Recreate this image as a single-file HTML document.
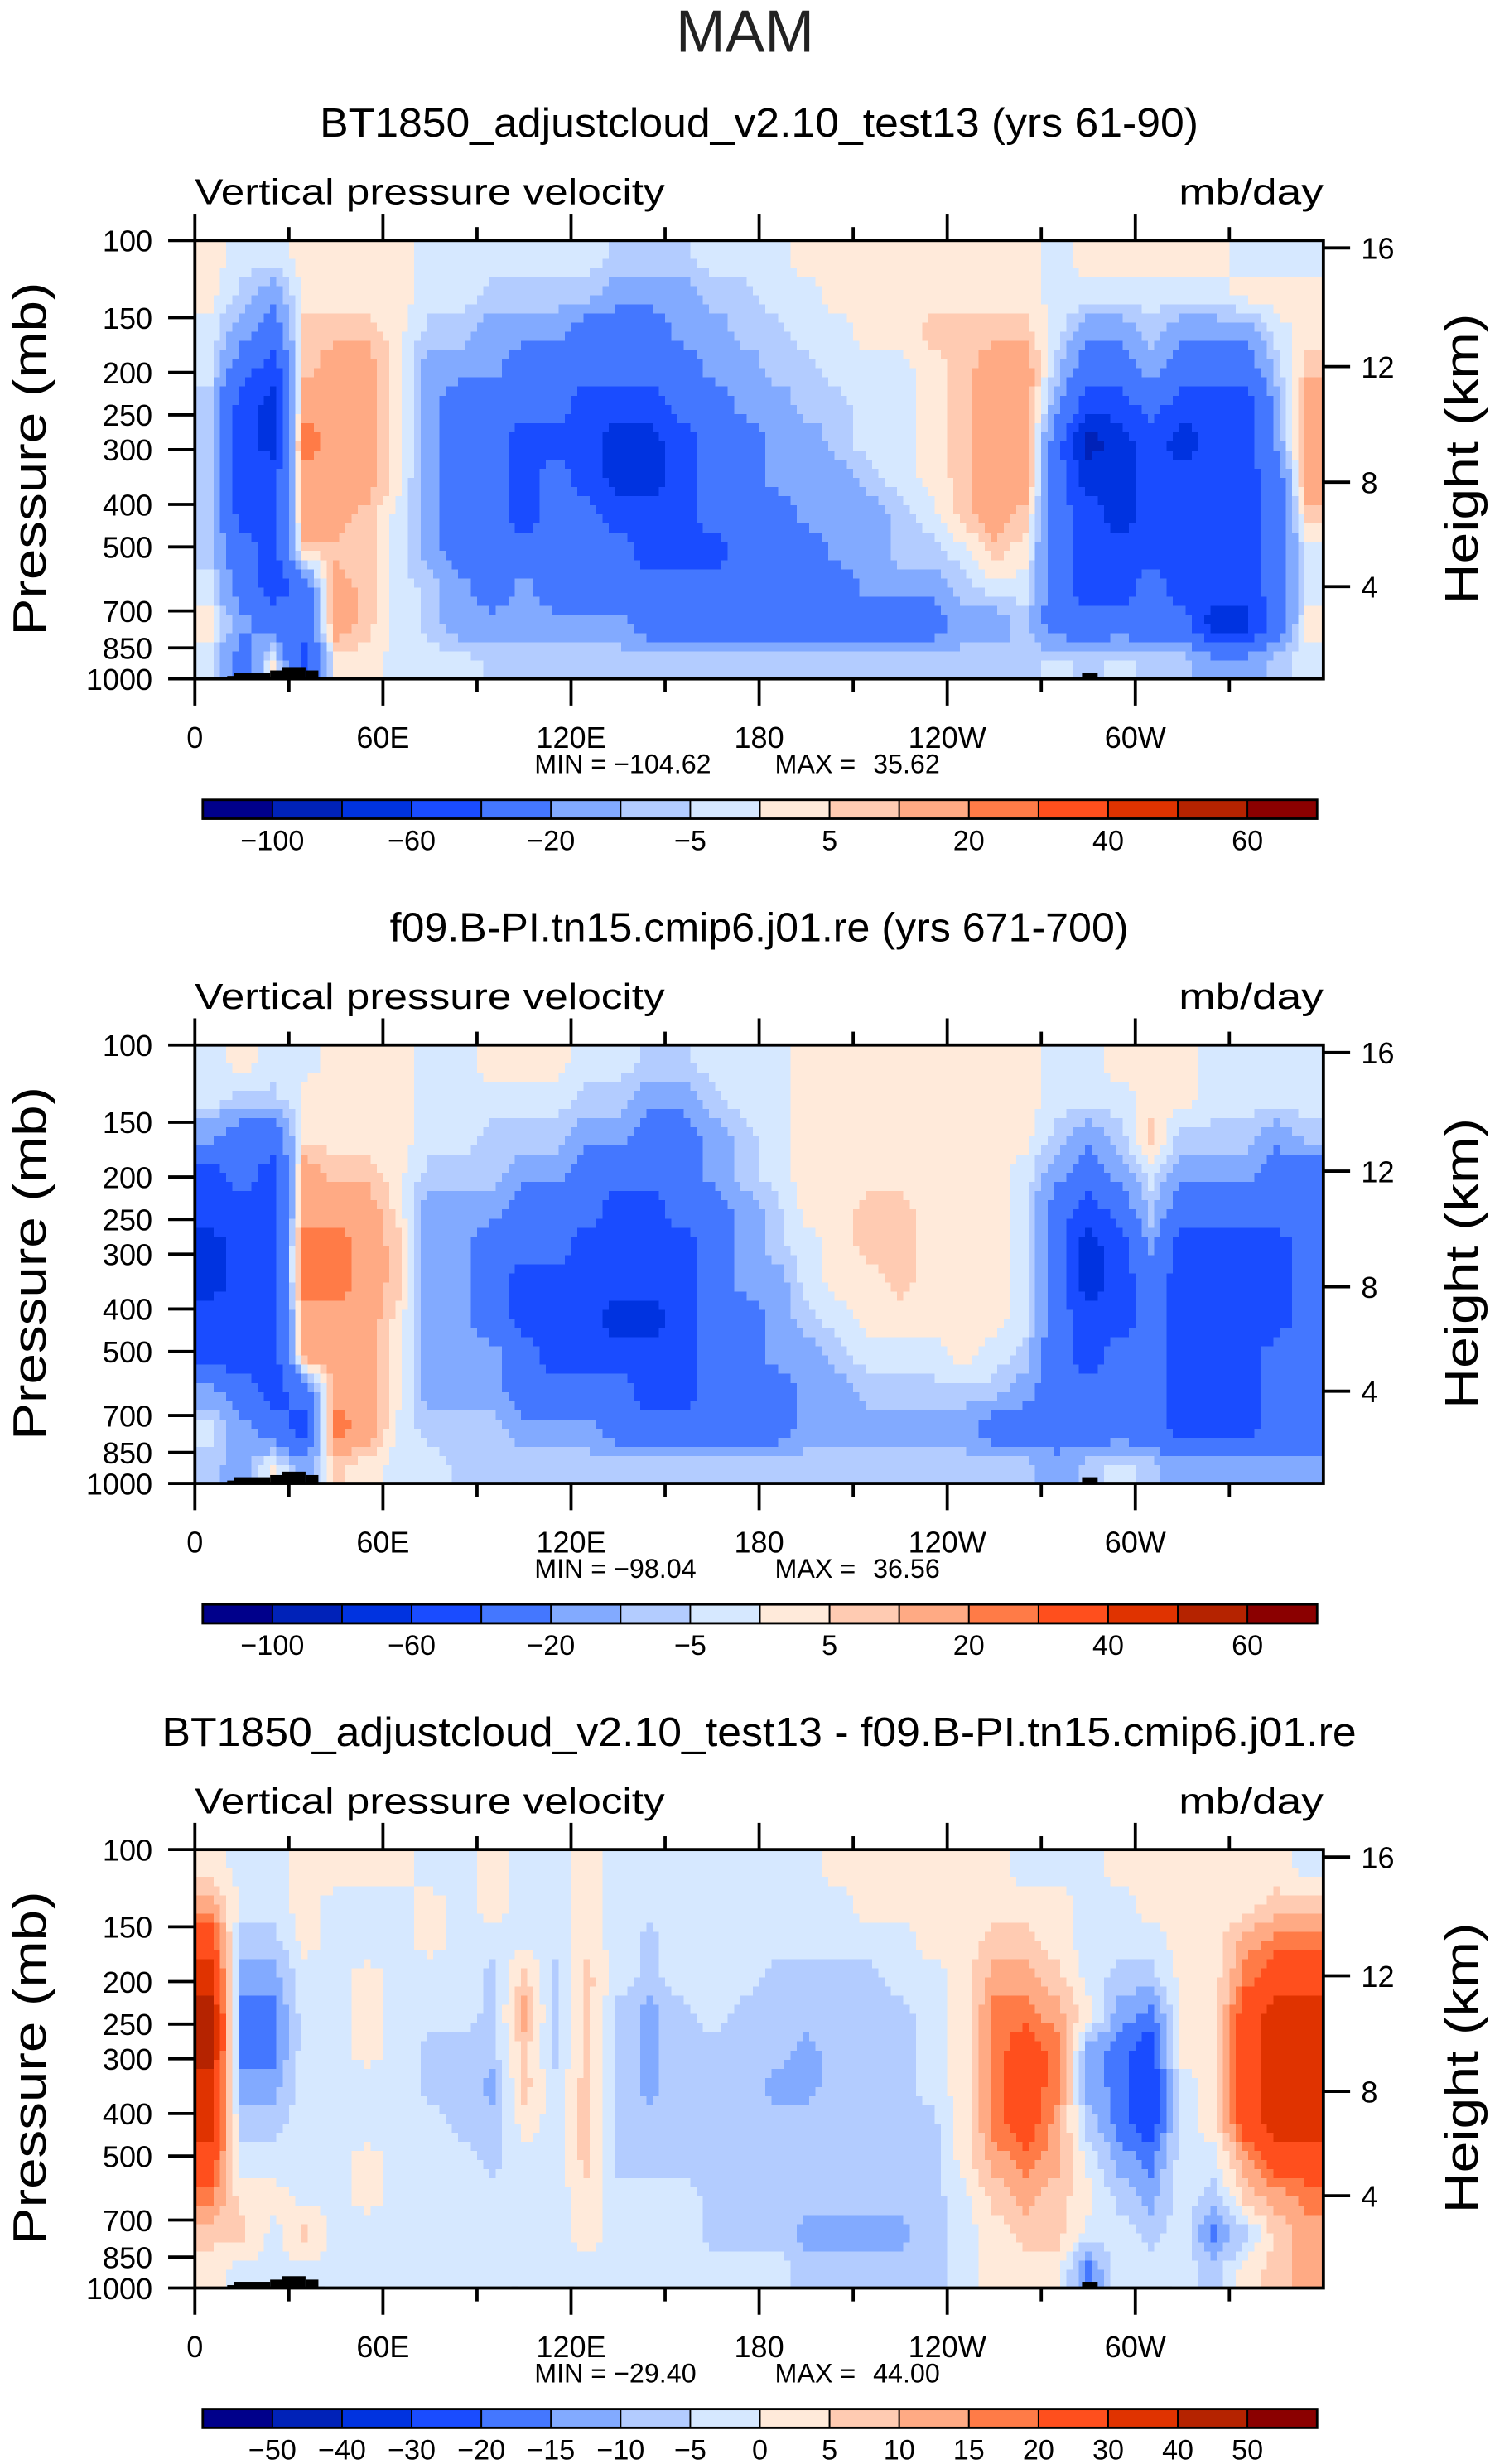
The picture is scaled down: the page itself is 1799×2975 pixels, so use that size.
<!DOCTYPE html>
<html><head><meta charset="utf-8"><style>
html,body{margin:0;padding:0;background:#fff;}
svg{display:block;font-family:"Liberation Sans",sans-serif;}
</style></head><body>
<svg id="fig" width="1799" height="2975" viewBox="0 0 948 1568" preserveAspectRatio="none" xmlns="http://www.w3.org/2000/svg">
<text x="474" y="33" font-size="38" text-anchor="middle" fill="#222" textLength="88" lengthAdjust="spacingAndGlyphs">MAM</text>
</svg>
<script>
// ===== data =====
const lonCenters = [5,15,25,35,45,55,65,75,85,95,105,115,125,135,145,155,165,175,185,195,205,215,225,235,245,255,265,275,285,295,305,315,325,335,345,355];
const pressureTicks = [100,150,200,250,300,400,500,700,850,1000];
const heightTicks = [16,12,8,4];
const heightTickPressure = [104,194,356,616];
const lonTickValues = [0,60,120,180,240,300];
const lonTickLabels = ["0","60E","120E","180","120W","60W"];
const levelsAbs = [-100,-80,-60,-40,-20,-10,-5,0,5,10,20,30,40,50,60];
const levelsDiff = [-50,-40,-30,-20,-15,-10,-5,0,5,10,15,20,30,40,50];
const levelColors = ['#00008b','#0022b8','#0033e0','#1a4cff','#4477ff','#82aaff','#b3ccff','#d6e8ff','#ffeada','#ffcbb2','#ffaa84','#ff7b47','#ff4f1d','#e03300','#b52300','#8b0000'];
const titles = ["BT1850_adjustcloud_v2.10_test13 (yrs 61-90)","f09.B-PI.tn15.cmip6.j01.re (yrs 671-700)","BT1850_adjustcloud_v2.10_test13 - f09.B-PI.tn15.cmip6.j01.re"];
const minVals = ["\u2212104.62","\u221298.04","\u221229.40"];
const maxVals = ["35.62","36.56","44.00"];
// columns: 36 longitude bins, each 12 rows from 100mb (top) to 1000mb (bottom)
const field1 = [
[2,2,-2,-2,-7,-7,-7,-7,-7,-2,2,-2],[-2,-7,-15,-30,-50,-50,-50,-50,-30,-30,-15,-30],[-2,-15,-30,-50,-70,-70,-50,-50,-50,-50,-30,2],
[2,2,7,7,15,25,15,15,7,-30,-30,-50],[2,2,7,15,15,15,15,15,7,15,15,2],[2,2,7,15,15,15,15,7,7,7,7,2],
[2,2,2,2,2,2,2,-2,-2,-2,-2,-2],[-2,-2,-7,-15,-15,-15,-15,-15,-15,-7,-7,-2],[-2,-2,-7,-15,-30,-30,-30,-30,-30,-15,-15,-2],
[-2,-7,-15,-15,-30,-30,-30,-30,-30,-30,-15,-7],[-2,-7,-15,-30,-30,-50,-50,-50,-30,-15,-15,-7],[-2,-7,-15,-30,-30,-50,-30,-30,-30,-30,-15,-7],
[-2,-7,-30,-30,-50,-50,-50,-30,-30,-30,-15,-7],[-7,-15,-30,-30,-50,-70,-70,-50,-30,-30,-15,-7],[-7,-15,-30,-30,-50,-70,-70,-50,-50,-30,-30,-7],
[-7,-15,-15,-30,-30,-50,-50,-50,-50,-30,-30,-7],[-2,-7,-15,-15,-30,-30,-30,-30,-50,-30,-30,-7],[-2,-7,-7,-15,-15,-30,-30,-30,-30,-30,-30,-7],
[-2,-2,-7,-7,-15,-15,-15,-30,-30,-30,-30,-7],[2,-2,-2,-7,-7,-15,-15,-15,-30,-30,-30,-7],[2,2,-2,-2,-7,-7,-15,-15,-15,-30,-30,-7],
[2,2,2,-2,-2,-2,-7,-15,-15,-15,-30,-7],[2,2,2,-2,-2,-2,-2,-7,-7,-15,-30,-7],[2,2,7,2,2,2,2,-2,-7,-15,-30,-7],
[2,2,7,7,7,7,7,7,-2,-7,-15,-7],[2,2,7,15,15,15,15,15,7,-2,-15,-7],[2,2,7,15,15,15,15,7,2,-2,-7,-7],
[-2,-2,-2,-7,-15,-30,-30,-30,-30,-30,-30,-2],[2,-2,-15,-30,-50,-90,-70,-50,-50,-50,-30,-7],[2,-2,-15,-30,-50,-70,-70,-70,-50,-50,-30,-2],
[2,-2,-7,-15,-30,-50,-50,-50,-50,-30,-30,-7],[2,-2,-15,-30,-50,-70,-50,-50,-50,-50,-30,-7],[2,-2,-15,-30,-50,-50,-50,-50,-50,-50,-70,-15],
[-2,2,-15,-30,-50,-50,-50,-50,-50,-50,-70,-15],[-2,2,-2,-7,-15,-15,-30,-30,-30,-30,-30,-7],[-2,2,2,7,15,15,15,7,-2,-2,2,-2]];
const field2 = [
[-2,-2,-15,-50,-50,-70,-70,-50,-50,-15,-2,-7],[2,-7,-30,-30,-50,-50,-50,-50,-50,-30,-15,-15],[-2,-7,-30,-50,-50,-50,-50,-50,-50,-50,-30,2],
[-2,2,2,15,15,25,25,15,15,-30,-50,-15],[2,2,2,7,15,25,25,15,15,15,25,7],[2,2,2,7,15,15,15,15,15,15,15,2],
[2,2,2,2,2,7,7,2,2,2,-2,-2],[-2,-2,-2,-7,-15,-15,-15,-15,-15,-15,-7,-2],[-2,-2,-2,-7,-15,-15,-15,-15,-15,-15,-7,-7],
[2,-2,-7,-7,-15,-30,-30,-30,-15,-15,-7,-7],[2,-2,-7,-15,-30,-30,-50,-50,-30,-30,-15,-7],[2,-2,-7,-15,-30,-30,-50,-50,-50,-30,-15,-7],
[-2,-7,-15,-30,-30,-50,-50,-50,-50,-30,-15,-7],[-2,-7,-15,-30,-50,-50,-50,-70,-50,-30,-30,-7],[-7,-15,-30,-30,-50,-50,-50,-70,-50,-50,-30,-7],
[-7,-15,-30,-30,-30,-50,-50,-50,-50,-50,-30,-7],[-2,-7,-15,-15,-30,-30,-30,-30,-30,-30,-30,-7],[-2,-2,-7,-7,-15,-15,-15,-30,-30,-30,-30,-7],
[-2,-2,-2,-2,-7,-7,-15,-15,-15,-30,-30,-7],[2,2,2,2,2,-2,-2,-7,-15,-15,-15,-7],[2,2,2,2,2,2,2,-2,-7,-15,-15,-7],
[2,2,2,2,7,7,2,2,-2,-7,-15,-7],[2,2,2,2,7,7,7,2,-2,-7,-15,-7],[2,2,2,2,2,2,2,2,-2,-7,-15,-7],
[2,2,2,2,2,2,2,2,2,-7,-15,-7],[2,2,2,2,2,2,2,2,-2,-7,-30,-7],[2,2,2,-2,-2,-2,-2,-2,-7,-15,-30,-7],
[-2,-2,-7,-15,-30,-30,-30,-30,-30,-30,-30,-15],[-2,-2,-15,-30,-50,-70,-70,-50,-50,-30,-30,-7],[2,-2,-7,-15,-30,-50,-50,-50,-30,-30,-30,-2],
[2,2,7,-2,-7,-15,-30,-30,-30,-30,-30,-7],[2,2,-7,-15,-30,-50,-50,-50,-50,-50,-50,-15],[-2,-2,-7,-15,-30,-50,-50,-50,-50,-50,-50,-15],
[-2,-2,-7,-15,-30,-50,-50,-50,-50,-50,-50,-15],[-2,-2,-15,-30,-30,-50,-50,-50,-30,-30,-30,-15],[-2,-2,-7,-30,-30,-30,-30,-30,-30,-30,-30,-15]];
const field3 = [
[2,12,25,35,45,45,35,35,25,17,7,2],[-2,-2,-7,-12,-17,-17,-12,-7,-2,2,7,-2],[-2,-2,-7,-12,-17,-17,-12,-7,-2,2,-2,-2],
[2,2,2,-2,-2,-2,-2,-2,-2,-2,7,-2],[2,-2,-2,-2,-2,-2,-2,-2,-2,-2,-2,-2],[2,-2,-2,2,2,2,-2,-2,2,2,-2,-2],
[2,-2,-2,-2,-2,-2,-2,-2,-2,-2,-2,-2],[-2,2,2,-2,-2,-7,-7,-2,-2,-2,-2,-2],[-2,-2,-2,-2,-2,-7,-7,-7,-2,-2,-2,-2],
[2,2,-2,-7,-7,-7,-12,-7,-7,-2,-2,-2],[-2,-2,-2,7,12,7,7,2,-2,-2,-2,-2],[-2,-2,-2,-7,-7,-7,-2,-2,-2,-2,-2,-2],
[2,2,2,7,7,7,7,7,7,2,2,-2],[-2,-2,-2,-2,-7,-7,-7,-7,-7,-2,-2,-2],[-2,-2,-7,-7,-12,-12,-12,-7,-7,-2,-2,-2],
[-2,-2,-2,-2,-7,-7,-7,-7,-7,-2,-2,-2],[-2,-2,-2,-2,-2,-7,-7,-7,-7,-7,-7,-2],[-2,-2,-2,-2,-7,-7,-7,-7,-7,-7,-7,-2],
[-2,-2,-2,-7,-7,-7,-12,-7,-7,-7,-7,-2],[-2,-2,-2,-7,-7,-12,-12,-7,-7,-7,-12,-7],[2,-2,-2,-7,-7,-7,-7,-7,-7,-7,-12,-7],
[2,2,-2,-7,-7,-7,-7,-7,-7,-7,-12,-7],[2,2,-2,-2,-7,-7,-7,-7,-7,-7,-12,-7],[2,2,2,-2,-2,-2,-2,-7,-7,-7,-7,-7],
[2,2,2,2,2,2,2,2,2,-2,-2,-2],[2,2,7,12,17,17,17,17,12,7,2,2],[-2,2,7,12,17,25,25,25,17,12,7,2],
[-2,2,2,7,12,17,17,12,12,7,7,2],[-2,-2,-2,-2,2,-12,-12,-7,-2,2,-2,-17],[2,-2,-2,-7,-12,-17,-17,-17,-12,-7,-2,-2],
[2,2,-2,-7,-17,-25,-25,-25,-17,-12,-7,-2],[2,2,2,2,2,2,-2,-2,-2,-2,-2,-2],[2,2,2,2,2,2,2,2,-2,-7,-17,-7],
[2,2,12,17,25,25,25,25,12,7,-7,2],[2,7,17,25,35,35,35,35,25,12,7,7],[-2,7,17,25,35,35,40,35,25,17,12,12]];
const topoLonStart = [10.3,12.6,24,27.7,35.3,39.4,101,119,283,288];
const topoLonEnd   = [12.6,24,27.7,35.3,39.4,41.4,103,121,288,311.7];
const topoTopP     = [985,968,957,940,957,993,993,993,968,993];

// ===== layout / axes =====
const NS='http://www.w3.org/2000/svg';
const svg=document.getElementById('fig');
const X0=124,X1=842,PT=153,PB=432;
const SUBX=5, SUBY=4;
function xLon(l){return X0+(X1-X0)*l/360;}
function yP(p,off){return off+PT+(PB-PT)*Math.log(p/100)/Math.log(10);}
function yRow(r,off){return off+PT+(PB-PT)*r/12;}
function el(tag,attrs,parent){const e=document.createElementNS(NS,tag);for(const k in attrs)e.setAttribute(k,attrs[k]);(parent||svg).appendChild(e);return e;}
function binIndex(v,levels){let i=0;while(i<levels.length&&v>=levels[i])i++;return i;}
// render-time bilinear sampling between cell centres (display smoothing only)
function sample(F,cf,rf){
  const nc=F.length,nr=F[0].length;
  cf=Math.max(0,Math.min(nc-1,cf)); rf=Math.max(0,Math.min(nr-1,rf));
  const c0=Math.floor(cf),r0=Math.floor(rf),c1=Math.min(nc-1,c0+1),r1=Math.min(nr-1,r0+1);
  const tx=cf-c0,ty=rf-r0;
  return (F[c0][r0]*(1-tx)+F[c1][r0]*tx)*(1-ty)+(F[c0][r1]*(1-tx)+F[c1][r1]*tx)*ty;
}

const fields=[field1,field2,field3];
const levelSets=[levelsAbs,levelsAbs,levelsDiff];
const titleLen=[559,470,760];
for(let k=0;k<3;k++){
  const off=512*k;
  const g=el('g',{});
  
  
  const t=el('text',{x:483,y:off+87,'font-size':26,'text-anchor':'middle',fill:'#000',textLength:titleLen[k],lengthAdjust:'spacingAndGlyphs'},g);
  t.textContent=titles[k];
  
  
  const v=el('text',{x:124,y:off+130,'font-size':23,fill:'#000',textLength:299,lengthAdjust:'spacingAndGlyphs'},g);
  v.textContent='Vertical pressure velocity';
  
  
  const u=el('text',{x:750,y:off+130,'font-size':23,fill:'#000',textLength:92,lengthAdjust:'spacingAndGlyphs'},g);
  u.textContent='mb/day';
  
  
  // cells (each data cell subdivided for smoother display)
  const cg=el('g',{'shape-rendering':'crispEdges'},g);
  
  
  const F=fields[k];
  for(let c=0;c<F.length;c++){
    for(let r=0;r<F[c].length;r++){
      const xa=xLon(lonCenters[c]-5),xb=xLon(lonCenters[c]+5);
      const ya=yRow(r,off),yb=yRow(r+1,off);
      const dw=(xb-xa)/SUBX,dh=(yb-ya)/SUBY;
      for(let i=0;i<SUBX;i++){
        for(let j=0;j<SUBY;j++){
          const cf=c-0.5+(i+0.5)/SUBX, rf=r-0.5+(j+0.5)/SUBY;
          const val=sample(F,cf,rf);
          const rc=el('rect',{x:xa+i*dw,y:ya+j*dh,width:dw+0.3,height:dh+0.3,fill:levelColors[binIndex(val,levelSets[k])]},cg);
          
          
        }
      }
    }
  }
  // topography
  for(let i=0;i<topoLonStart.length;i++){
    const tr=el('rect',{x:xLon(topoLonStart[i]),y:yP(topoTopP[i],off),width:xLon(topoLonEnd[i])-xLon(topoLonStart[i]),height:yP(1000,off)-yP(topoTopP[i],off),fill:'#000'},g);
    
    
  }
  // frame
  const fr=el('rect',{x:X0,y:off+PT,width:X1-X0,height:PB-PT,fill:'none',stroke:'#000','stroke-width':2},g);
  
  
  // x ticks
  for(let l=0;l<=330;l+=30){
    const major=(l%60===0), x=xLon(l);
    const len=major?17:8.5;
    el('line',{x1:x,x2:x,y1:off+PT,y2:off+PT-len,stroke:'#000','stroke-width':2},g);
    el('line',{x1:x,x2:x,y1:off+PB,y2:off+PB+len,stroke:'#000','stroke-width':2},g);
  }
  for(let i=0;i<lonTickValues.length;i++){
    const xl=el('text',{x:xLon(lonTickValues[i]),y:off+476,'font-size':19,'text-anchor':'middle',fill:'#000'},g);
    xl.textContent=lonTickLabels[i];
    
    
  }
  // y ticks
  for(const p of pressureTicks){
    const y=yP(p,off);
    el('line',{x1:X0-17,x2:X0,y1:y,y2:y,stroke:'#000','stroke-width':2},g);
    const yl=el('text',{x:97,y:y+7,'font-size':19,'text-anchor':'end',fill:'#000'},g);
    yl.textContent=String(p);
    
    
  }
  for(let i=0;i<heightTicks.length;i++){
    const y=yP(heightTickPressure[i],off);
    el('line',{x1:X1,x2:X1+17,y1:y,y2:y,stroke:'#000','stroke-width':2},g);
    const hl=el('text',{x:866,y:y+7,'font-size':19,fill:'#000'},g);
    hl.textContent=String(heightTicks[i]);
    
    
  }
  const ya=el('text',{x:0,y:0,'font-size':30,'text-anchor':'middle',fill:'#000',textLength:225,lengthAdjust:'spacingAndGlyphs',transform:`translate(29,${off+292}) rotate(-90)`},g);
  ya.textContent='Pressure (mb)';
  
  
  const ha=el('text',{x:0,y:0,'font-size':30,'text-anchor':'middle',fill:'#000',textLength:185,lengthAdjust:'spacingAndGlyphs',transform:`translate(940,${off+292}) rotate(-90)`},g);
  ha.textContent='Height (km)';
  
  
  const mm1=el('text',{x:340,y:off+492,'font-size':17,fill:'#000'},g);
  mm1.textContent='MIN = '+minVals[k];
  
  
  const mm2=el('text',{x:493,y:off+492,'font-size':17,fill:'#000'},g);
  mm2.textContent='MAX =';
  
  
  const mm3=el('text',{x:598,y:off+492,'font-size':17,fill:'#000','text-anchor':'end'},g);
  mm3.textContent=maxVals[k];
  
  
  // colorbar
  const cb=el('g',{},g);
  
  
  const bx0=129,bx1=838,bw=(bx1-bx0)/16;
  for(let i=0;i<16;i++){
    const b=el('rect',{x:bx0+i*bw,y:off+509,width:bw,height:12,fill:levelColors[i],stroke:'#000','stroke-width':1},cb);
    
    
  }
  el('rect',{x:bx0,y:off+509,width:bx1-bx0,height:12,fill:'none',stroke:'#000','stroke-width':1.5},cb);
  const lv=levelSets[k];
  for(let i=0;i<lv.length;i++){
    if(k<2 && i%2===1) continue;
    const s=lv[i]<0?'\u2212'+Math.abs(lv[i]):String(lv[i]);
    const lt=el('text',{x:bx0+(i+1)*bw,y:off+541,'font-size':18,'text-anchor':'middle',fill:'#000'},cb);
    lt.textContent=s;
    
    
  }
}
</script>
</body></html>
